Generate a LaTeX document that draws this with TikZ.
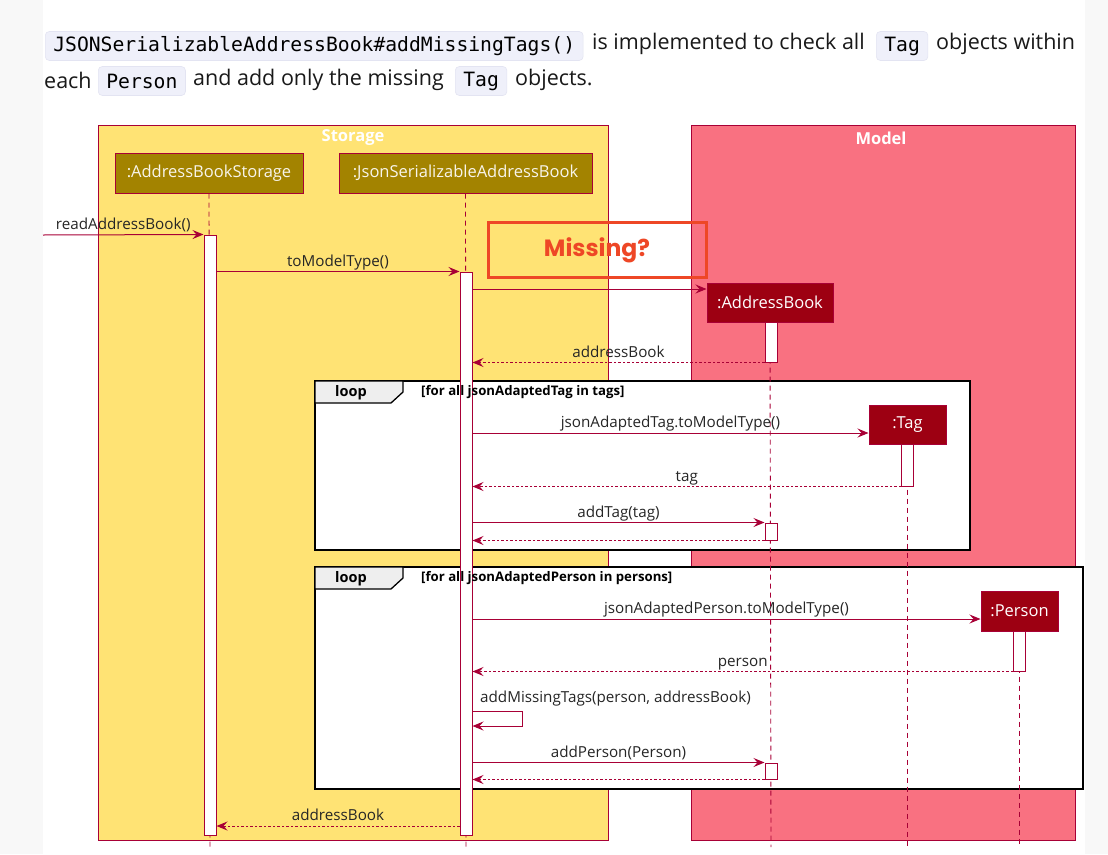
\documentclass[tikz,border=0pt]{standalone}
\usepackage{fontspec}
\setmainfont{Open Sans}
\newfontfamily\codefont{DejaVu Sans Mono}
\newfontfamily\missfont{Poppins}
\usetikzlibrary{arrows.meta}
\definecolor{plcrim}{HTML}{A80036}
\definecolor{stbg}{HTML}{FFE374}
\definecolor{sthd}{HTML}{A38300}
\definecolor{mdbg}{HTML}{F97181}
\definecolor{mdhd}{HTML}{9D0012}
\definecolor{codebg}{HTML}{EFF0FA}
\definecolor{codebd}{HTML}{E3E4F2}
\definecolor{missc}{HTML}{EE4726}
\definecolor{tabbg}{HTML}{EEEEEE}
\definecolor{pagebg}{HTML}{F8F8F8}
\tikzset{
  x=1pt, y=-1pt,
  dfont/.style={font=\fontsize{15.2}{17}\selectfont},
  grp/.style={draw=plcrim, line width=1pt},
  grptitle/.style={text=white, font=\fontsize{16.5}{18}\selectfont\bfseries},
  part/.style={draw=plcrim, line width=1pt, rectangle, inner sep=0pt, minimum height=40pt, font=\fontsize{16.5}{18}\selectfont},
  lifel/.style={draw=plcrim, line width=0.9pt, dash pattern=on 5pt off 4pt},
  actbar/.style={draw=plcrim, fill=white, line width=1pt, rectangle, inner sep=0pt, minimum width=12pt},
  msg/.style={draw=plcrim, line width=1pt, -{Stealth[length=11pt,width=9pt,inset=4pt]}},
  ret/.style={msg, dash pattern=on 2.5pt off 2pt},
  mlabel/.style={dfont, text=black!85, inner sep=0pt, anchor=base, yshift=5.5pt},
  frame/.style={draw=black, line width=2.5pt, fill=white},
  tabshape/.style={draw=black, line width=1.3pt, fill=tabbg},
  looplbl/.style={font=\fontsize{14.5}{16}\selectfont\bfseries, inner sep=0pt},
  guard/.style={font=\fontsize{13.2}{14}\selectfont\bfseries, anchor=west, inner sep=0pt},
  codebox/.style={fill=codebg, draw=codebd, line width=0.6pt, rounded corners=4pt, inner xsep=8pt, inner ysep=0pt, minimum height=29pt, font=\codefont\fontsize{19.7}{22}\selectfont, anchor=west},
  bodytxt/.style={font=\fontsize{21.5}{24}\selectfont, inner sep=0pt, anchor=west, text=black!90},
}
\begin{document}
\begin{tikzpicture}
\useasboundingbox (0,0) rectangle (1108,854);
\fill[pagebg] (0,0) rectangle (1108,854);
\fill[white] (43,0) rectangle (1085,854);

% ---- top text ----
\node[codebox] (c1) at (45,46) {JSONSerializableAddressBook\#addMissingTags()};
\node[bodytxt] (t1) at (592,44) {is implemented to check all};
\node[codebox] (c2) at (876,46) {Tag};
\node[bodytxt] (t2) at (936,44) {objects within};
\node[bodytxt] (t3) at (44,80) {each};
\node[codebox] (c3) at (98,81) {Person};
\node[bodytxt] (t4) at (193,80) {and add only the missing};
\node[codebox] (c4) at (455,81) {Tag};
\node[bodytxt] (t5) at (515,80) {objects.};

% ---- group boxes ----
\filldraw[grp, fill=stbg] (98,125) rectangle (608,840);
\node[grptitle] (stt) at (353,138) {Storage};
\filldraw[grp, fill=mdbg] (691,125) rectangle (1075,840);
\node[grptitle] (mdt) at (881,138) {Model};

% ---- loop frames ----
\filldraw[frame] (315,381) rectangle (970,550);
\filldraw[tabshape] (315,381) -- (403,381) -- (403,392) -- (391,403) -- (315,403) -- cycle;
\node[looplbl] (l1) at (351,393) {loop};

\filldraw[frame] (315,567) rectangle (1083,789);
\filldraw[tabshape] (315,567) -- (403,567) -- (403,578) -- (391,589) -- (315,589) -- cycle;
\node[looplbl] (l2) at (351,579) {loop};

% ---- participants ----
\node[part, fill=sthd, text=white!92!sthd, minimum width=188pt] (absH) at (209,173) {:AddressBookStorage};
\node[part, fill=sthd, text=white!92!sthd, minimum width=253pt] (jsH) at (465.5,173) {:JsonSerializableAddressBook};
\node[part, fill=mdhd, text=white, minimum width=126pt, minimum height=39pt] (abH) at (770,302.5) {:AddressBook};
\node[part, fill=mdhd, text=white, minimum width=77pt, minimum height=39pt] (tagH) at (907.5,424.5) {:Tag};
\node[part, fill=mdhd, text=white, minimum width=77pt] (personH) at (1019.5,611) {:Person};

% ---- lifelines ----
\coordinate (absEnd) at (210,847);
\coordinate (jsEnd) at (466,847);
\coordinate (abEnd) at (771,847);
\coordinate (tagEnd) at (907.5,847);
\coordinate (personEnd) at (1019.5,847);
\draw[lifel] (absH.south) -- (absEnd);
\draw[lifel] (jsH.south) -- (jsEnd);
\draw[lifel] (abH.south) -- (abEnd);
\draw[lifel] (tagH.south) -- (tagEnd);
\draw[lifel] (personH.south) -- (personEnd);

% ---- activation bars ----
\node[actbar, minimum height=600pt] (absAct) at (210,535) {};
\node[actbar, minimum height=563pt] (jsAct) at (466,553.5) {};
\node[actbar, minimum height=40pt] (abAct1) at (771,342) {};
\node[actbar, minimum height=42pt] (tagAct) at (907.5,465) {};
\node[actbar, minimum height=17pt] (abAct2) at (771,531.5) {};
\node[actbar, minimum height=40pt] (personAct) at (1019.5,651) {};
\node[actbar, minimum height=16pt] (abAct3) at (771,771) {};

% ---- loop guards (over the bars) ----
\node[guard] (g1) at (421,392) {[for all jsonAdaptedTag in tags]};
\node[guard] (g2) at (421,578) {[for all jsonAdaptedPerson in persons]};

% ---- messages ----
\coordinate (src) at (43,235);
\draw[msg] (src) -- node[mlabel] {readAddressBook()} (absAct.north west);
\draw[msg] (absAct.east |- jsAct.north west) -- node[mlabel] {toModelType()} (jsAct.north west);
\draw[msg] (jsAct.east |- 0,289) -- (abH.west |- 0,289);
\draw[ret] (abAct1.south west) -- node[mlabel] {addressBook} (jsAct.east |- abAct1.south west);
\draw[msg] (jsAct.east |- 0,433) -- node[mlabel] {jsonAdaptedTag.toModelType()} (tagH.west |- 0,433);
\draw[ret] (tagAct.south west) -- node[mlabel] {tag} (jsAct.east |- tagAct.south west);
\draw[msg] (jsAct.east |- abAct2.north west) -- node[mlabel] {addTag(tag)} (abAct2.north west);
\draw[ret] (abAct2.south west) -- (jsAct.east |- abAct2.south west);
\draw[msg] (jsAct.east |- 0,619) -- node[mlabel] {jsonAdaptedPerson.toModelType()} (personH.west |- 0,619);
\draw[ret] (personAct.south west) -- node[mlabel] {person} (jsAct.east |- personAct.south west);
\draw[msg] (jsAct.east |- 0,711) -- ++(50,0) -- ++(0,15) -- (jsAct.east |- 0,726);
\node[dfont, text=black!85, anchor=base west, inner sep=0pt] (selflbl) at (480,702) {addMissingTags(person, addressBook)};
\draw[msg] (jsAct.east |- abAct3.north west) -- node[mlabel] {addPerson(Person)} (abAct3.north west);
\draw[ret] (abAct3.south west) -- (jsAct.east |- abAct3.south west);
\draw[ret] (jsAct.west |- 0,826) -- node[mlabel] {addressBook} (absAct.east |- 0,826);

% ---- annotation ----
\draw[missc, line width=3pt] (488,222) rectangle (706,277);
\node[text=missc, font=\missfont\fontsize{23.5}{26}\selectfont\bfseries] (miss) at (597,250) {Missing?};
\end{tikzpicture}
\end{document}
